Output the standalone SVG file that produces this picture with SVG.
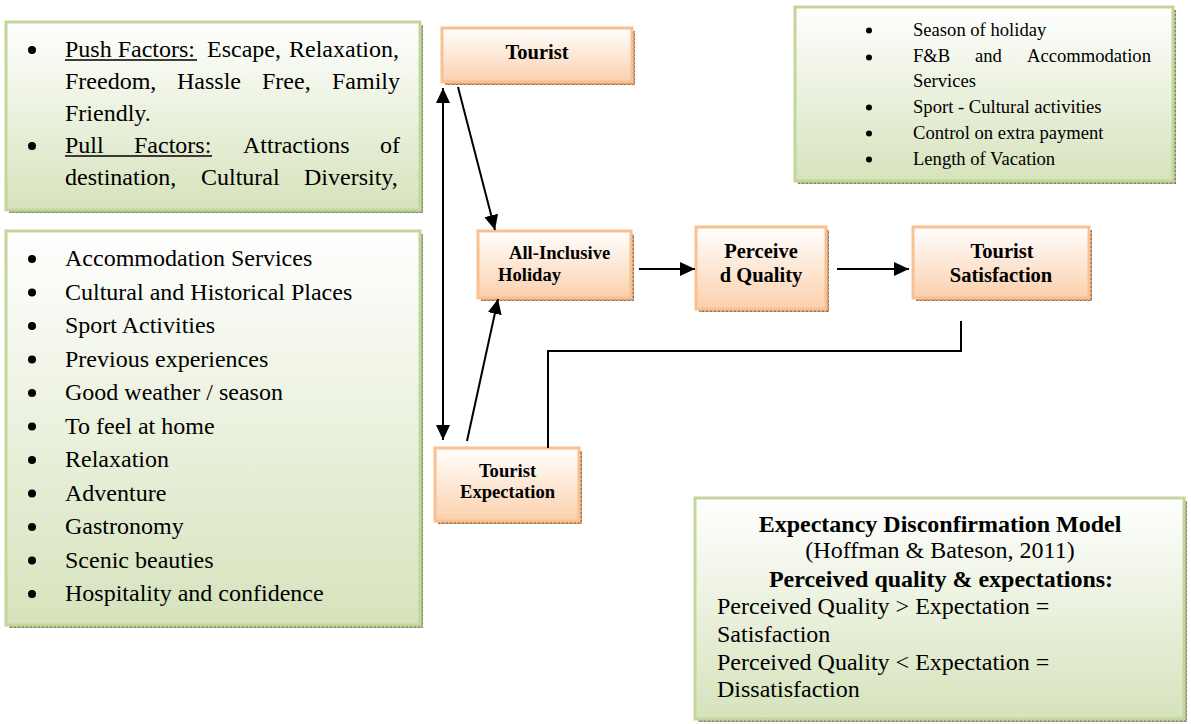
<svg xmlns="http://www.w3.org/2000/svg" width="1191" height="724" viewBox="0 0 1191 724">
<defs>
<linearGradient id="gGreen" x1="0" y1="0" x2="0" y2="1"><stop offset="0" stop-color="#ffffff"/><stop offset="1" stop-color="#d6e3bc"/></linearGradient>
<linearGradient id="gOrange" x1="0" y1="0" x2="0" y2="1"><stop offset="0" stop-color="#ffffff"/><stop offset="1" stop-color="#fbd0ac"/></linearGradient>
<pattern id="pGreen" width="4" height="4" patternUnits="userSpaceOnUse"><rect width="4" height="4" fill="#b0ba94"/><rect width="2" height="2" fill="#7f8a64"/><rect x="2" y="2" width="2" height="2" fill="#7f8a64"/></pattern>
<pattern id="pOrange" width="4" height="4" patternUnits="userSpaceOnUse"><rect width="4" height="4" fill="#cfa688"/><rect width="2" height="2" fill="#9b6f50"/><rect x="2" y="2" width="2" height="2" fill="#9b6f50"/></pattern>
<marker id="ah" viewBox="0 0 15 14" refX="15" refY="7" markerWidth="15" markerHeight="14" markerUnits="userSpaceOnUse" orient="auto-start-reverse"><path d="M0,0 L15,7 L0,14 z" fill="#000"/></marker>
</defs>
<style>
.gbox{fill:url(#gGreen);stroke:#c3d69b;stroke-width:3}
.obox{fill:url(#gOrange);stroke:#fac090;stroke-width:3}
.gsh{fill:url(#pGreen)}
.osh{fill:url(#pOrange)}
.t{font-family:"Liberation Serif","Times New Roman",serif;fill:#000}
.r24{font-size:24px}
.r18{font-size:18.6px}
.b{font-weight:bold}
.c{text-anchor:middle}
.con{stroke:#000;stroke-width:2;fill:none}
.ul{stroke:#000;stroke-width:1.5}
</style>

<g id="push-pull">
<rect class="gsh" x="9" y="25" width="414" height="188"/>
<rect class="gbox" x="6" y="22" width="414" height="188"/>
<circle cx="32" cy="50" r="4"/>
<circle cx="32" cy="146" r="4"/>
<text class="t r24"><tspan x="65" y="57">Push Factors:</tspan><tspan x="207" y="57">Escape,</tspan><tspan x="289" y="57">Relaxation,</tspan></text>
<line class="ul" x1="65" y1="60" x2="197" y2="60"/>
<text class="t r24"><tspan x="65" y="89">Freedom,</tspan><tspan x="177" y="89">Hassle</tspan><tspan x="262" y="89">Free,</tspan><tspan x="332" y="89">Family</tspan></text>
<text class="t r24" x="65" y="121">Friendly.</text>
<text class="t r24"><tspan x="65" y="153">Pull</tspan><tspan x="134" y="153">Factors:</tspan><tspan x="243" y="153">Attractions</tspan><tspan x="380" y="153">of</tspan></text>
<line class="ul" x1="65" y1="156" x2="212" y2="156"/>
<text class="t r24"><tspan x="65" y="185">destination,</tspan><tspan x="201" y="185">Cultural</tspan><tspan x="304" y="185">Diversity,</tspan></text>
</g>

<g id="attractions">
<rect class="gsh" x="9" y="234" width="414" height="394"/>
<rect class="gbox" x="6" y="231" width="414" height="394"/>
<g>
<circle cx="32" cy="259" r="4"/><circle cx="32" cy="292.5" r="4"/><circle cx="32" cy="326" r="4"/><circle cx="32" cy="359.5" r="4"/><circle cx="32" cy="393" r="4"/><circle cx="32" cy="426.5" r="4"/><circle cx="32" cy="460" r="4"/><circle cx="32" cy="493.5" r="4"/><circle cx="32" cy="527" r="4"/><circle cx="32" cy="560.5" r="4"/><circle cx="32" cy="594" r="4"/>
</g>
<text class="t r24">
<tspan x="65" y="266">Accommodation Services</tspan>
<tspan x="65" y="299.5">Cultural and Historical Places</tspan>
<tspan x="65" y="333">Sport Activities</tspan>
<tspan x="65" y="366.5">Previous experiences</tspan>
<tspan x="65" y="400">Good weather / season</tspan>
<tspan x="65" y="433.5">To feel at home</tspan>
<tspan x="65" y="467">Relaxation</tspan>
<tspan x="65" y="500.5">Adventure</tspan>
<tspan x="65" y="534">Gastronomy</tspan>
<tspan x="65" y="567.5">Scenic beauties</tspan>
<tspan x="65" y="601">Hospitality and confidence</tspan>
</text>
</g>

<g id="holiday-factors">
<rect class="gsh" x="798" y="10" width="378" height="174"/>
<rect class="gbox" x="795" y="7" width="378" height="174"/>
<circle cx="869" cy="30.5" r="3"/><circle cx="869" cy="57.5" r="3"/><circle cx="869" cy="107.5" r="3"/><circle cx="869" cy="133.5" r="3"/><circle cx="869" cy="159.5" r="3"/>
<text class="t r18">
<tspan x="913" y="36">Season of holiday</tspan>
<tspan x="913" y="62">F&amp;B</tspan><tspan x="975" y="62">and</tspan><tspan x="1027" y="62">Accommodation</tspan>
<tspan x="913" y="87">Services</tspan>
<tspan x="913" y="113">Sport - Cultural activities</tspan>
<tspan x="913" y="139">Control on extra payment</tspan>
<tspan x="913" y="165">Length of Vacation</tspan>
</text>
</g>

<g id="edm-model">
<rect class="gsh" x="698" y="501" width="489" height="221"/>
<rect class="gbox" x="695" y="498" width="489" height="221"/>
<text class="t r24 b c" x="940" y="532">Expectancy Disconfirmation Model</text>
<text class="t r24 c" x="940" y="558">(Hoffman &amp; Bateson, 2011)</text>
<text class="t r24 b c" x="941" y="587">Perceived quality &amp; expectations:</text>
<text class="t r24">
<tspan x="717" y="614">Perceived Quality &gt; Expectation =</tspan>
<tspan x="717" y="642">Satisfaction</tspan>
<tspan x="717" y="670">Perceived Quality &lt; Expectation =</tspan>
<tspan x="717" y="697">Dissatisfaction</tspan>
</text>
</g>

<g id="tourist">
<rect class="osh" x="445" y="31" width="190" height="54"/>
<rect class="obox" x="442" y="28" width="190" height="54"/>
<text class="t b c" font-size="20.5" x="537" y="59">Tourist</text>
</g>

<g id="all-inclusive">
<rect class="osh" x="481" y="234" width="153" height="67"/>
<rect class="obox" x="478" y="231" width="153" height="67"/>
<text class="t b r18"><tspan x="509" y="259">All-Inclusive</tspan><tspan x="498" y="281">Holiday</tspan></text>
</g>

<g id="perceived-quality">
<rect class="osh" x="699" y="230" width="130" height="82"/>
<rect class="obox" x="696" y="227" width="130" height="82"/>
<text class="t b c" font-size="20.5"><tspan x="761" y="258">Perceive</tspan><tspan x="761" y="282">d Quality</tspan></text>
</g>

<g id="tourist-satisfaction">
<rect class="osh" x="916" y="230" width="176" height="71"/>
<rect class="obox" x="913" y="227" width="176" height="71"/>
<text class="t b c" font-size="20.5"><tspan x="1002" y="258">Tourist</tspan><tspan x="1001" y="282">Satisfaction</tspan></text>
</g>

<g id="tourist-expectation">
<rect class="osh" x="438" y="451" width="144" height="73"/>
<rect class="obox" x="435" y="448" width="144" height="73"/>
<text class="t b c r18"><tspan x="507.5" y="477">Tourist</tspan><tspan x="507.5" y="498">Expectation</tspan></text>
</g>

<g id="connectors">
<line class="con" x1="443" y1="88" x2="443" y2="440" marker-start="url(#ah)" marker-end="url(#ah)"/>
<line class="con" x1="458" y1="87" x2="495" y2="230" marker-end="url(#ah)"/>
<line class="con" x1="467" y1="441" x2="498" y2="299" marker-end="url(#ah)"/>
<line class="con" x1="639" y1="269" x2="695" y2="269" marker-end="url(#ah)"/>
<line class="con" x1="837" y1="269" x2="909" y2="269" marker-end="url(#ah)"/>
<polyline class="con" points="961,321 961,351 548,351 548,448"/>
</g>
</svg>
